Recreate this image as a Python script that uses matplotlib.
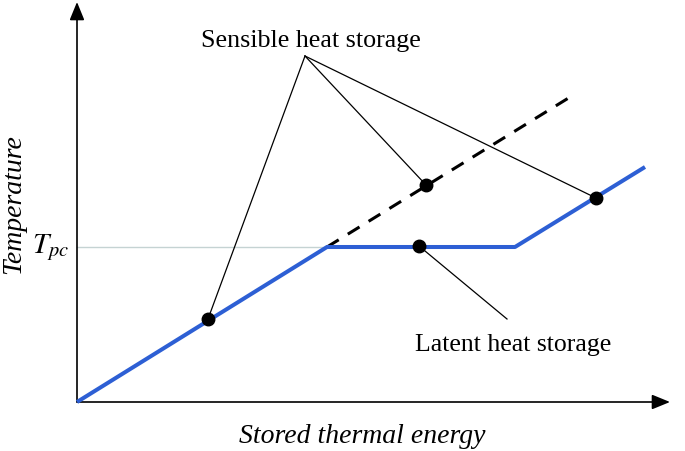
import matplotlib
matplotlib.use("Agg")
import matplotlib.pyplot as plt

plt.rcParams['font.family'] = ['Liberation Serif', 'DejaVu Serif']
plt.rcParams['mathtext.fontset'] = 'stix'

# Data (energy, temperature) in arbitrary units
blue_x = [0, 250, 438, 568]
blue_y = [0, 155, 155, 235]
dash_x = [250, 498]
dash_y = [155, 308]
tpc = 155
dots_x = [131, 349, 342, 519]
dots_y = [83, 217, 156, 204]
sensible_apex = (228, 346)
sensible_targets = [0, 1, 3]
latent_end = (430, 83)
latent_target = 2

fig = plt.figure(figsize=(6.85, 4.52), dpi=100)
ax = fig.add_axes([0, 0, 1, 1])
ax.set_xlim(-77, 608)
ax.set_ylim(-49, 403)
ax.axis('off')

# axes with arrows
ax.annotate('', xy=(0, 400), xytext=(0, 0),
            arrowprops=dict(arrowstyle='-|>,head_length=1.1,head_width=0.45', color='black', lw=1.2, shrinkA=0, shrinkB=0))
ax.annotate('', xy=(593, 0), xytext=(0, 0),
            arrowprops=dict(arrowstyle='-|>,head_length=1.1,head_width=0.45', color='black', lw=1.2, shrinkA=0, shrinkB=0))

# Tpc reference line
ax.plot([0, blue_x[1]], [tpc, tpc], color='#c5d3d3', lw=1.0, zorder=1)
ax.text(-8, tpc, '$T_{pc}$', fontsize=21, ha='right', va='center')

# dashed extension
ax.plot(dash_x, dash_y, color='black', lw=2.2, ls=(0, (4.5, 3.5)), zorder=2)

# blue curve
ax.plot(blue_x, blue_y, color='#2d5fd4', lw=2.9, zorder=3, solid_capstyle='butt')

# leader lines
for i in sensible_targets:
    ax.plot([sensible_apex[0], dots_x[i]], [sensible_apex[1], dots_y[i]], color='black', lw=0.9, zorder=2)
ax.plot([dots_x[latent_target], latent_end[0]], [dots_y[latent_target], latent_end[1]], color='black', lw=0.9, zorder=2)

# dots
ax.plot(dots_x, dots_y, 'o', color='black', ms=9, zorder=4)

ax.text(234, 362, 'Sensible heat storage', fontsize=18.7, ha='center', va='center')
ax.text(436, 58, 'Latent heat storage', fontsize=18.5, ha='center', va='center')
ax.text(285, -34, 'Stored thermal energy', fontsize=20, style='italic', ha='center', va='center')
ax.text(-63, 199, 'Temperature', fontsize=20, style='italic', ha='center', va='center', rotation=90)

fig.savefig('out.png', dpi=100)
